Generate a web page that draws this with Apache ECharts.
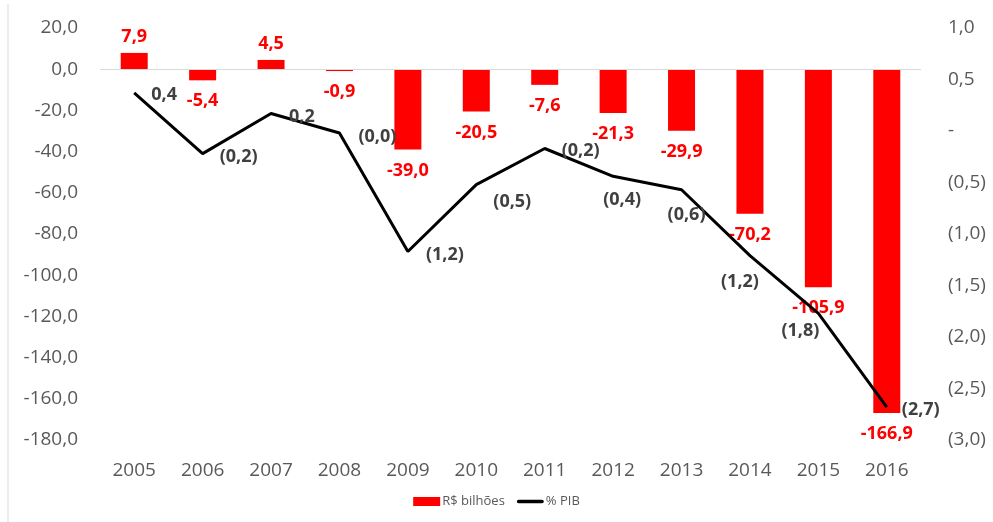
<!DOCTYPE html>
<html>
<head>
<meta charset="utf-8">
<script src="https://cdn.jsdelivr.net/npm/echarts@6/dist/echarts.min.js"></script>
<style>
  html, body { margin: 0; padding: 0; background: #fff; }
  #chart { width: 993px; height: 522px; }
</style>
</head>
<body>
<div id="chart"></div>
<script>
const years = ['2005', '2006', '2007', '2008', '2009', '2010', '2011', '2012', '2013', '2014', '2015', '2016'];
// resultado em R$ bilhões
const bilhoes = [7.9, -5.4, 4.5, -0.9, -39.0, -20.5, -7.6, -21.3, -29.9, -70.2, -105.9, -166.9];
const pib = [0.37, -0.22, 0.17, -0.02, -1.17, -0.52, -0.17, -0.44, -0.57, -1.21, -1.77, -2.68];
const leftTicks = { min: -180, max: 20, step: 20 };
const rightTicks = { min: -3, max: 1, step: 0.5 };

// onde colocar cada rótulo da linha
const pibLabelPlace = [
  { pos: 'right', offset: [12, 2] },
  { pos: 'right', offset: [12, 3] },
  { pos: 'right', offset: [13, 3] },
  { pos: 'right', offset: [14, 4] },
  { pos: 'right', offset: [13, 3] },
  { pos: 'right', offset: [12, 17] },
  { pos: 'right', offset: [12, 2] },
  { pos: 'bottom', offset: [9, 10] },
  { pos: 'bottom', offset: [5, 11] },
  { pos: 'bottom', offset: [-10, 12] },
  { pos: 'bottom', offset: [-18, 4] },
  { pos: 'right', offset: [10, 3] }
];

const FONT = "'Open Sans', 'Noto Sans', sans-serif";
const fmt = v => Math.abs(v).toFixed(1).replace('.', ',');

let myChart = echarts.init(document.getElementById('chart'));
const option = {
  animation: false,
  textStyle: { fontFamily: FONT },
  grid: { left: 100, right: 72, top: 28, bottom: 82 },
  legend: {
    bottom: 9,
    left: 'center',
    itemWidth: 27,
    itemHeight: 9,
    itemGap: 12,
    textStyle: { color: '#595959', fontSize: 13, fontFamily: FONT, padding: [0, 0, 0, -3] },
    data: [
      { name: 'R$ bilhões', icon: 'rect' },
      // linha grossa com cantos arredondados, caixa invisível mantém a proporção
      { name: '% PIB', icon: 'path://M0,0 L0,0 M2,2.5 L28,2.5 A2,2 0 0 1 28,6.5 L2,6.5 A2,2 0 0 1 2,2.5 Z M30,9 L30,9', itemStyle: { color: '#000' } }
    ]
  },
  graphic: [{
    type: 'line',
    shape: { x1: 8, y1: 4, x2: 8, y2: 522 },
    style: { stroke: '#d9d9d9', lineWidth: 1 }
  }],
  xAxis: {
    type: 'category',
    data: years,
    axisLine: { show: false },
    axisTick: { show: false },
    axisLabel: { color: '#595959', fontSize: 19, margin: 21, fontFamily: FONT }
  },
  yAxis: [{
    type: 'value',
    min: leftTicks.min,
    max: leftTicks.max,
    interval: leftTicks.step,
    splitLine: { show: false },
    axisLine: { show: false },
    axisTick: { show: false },
    axisLabel: {
      color: '#595959', fontSize: 19, margin: 22, fontFamily: FONT,
      formatter: v => (v < 0 ? '-' : '') + fmt(v)
    }
  }, {
    type: 'value',
    min: rightTicks.min,
    max: rightTicks.max,
    interval: rightTicks.step,
    splitLine: { show: false },
    axisLine: { show: false },
    axisTick: { show: false },
    axisLabel: {
      color: '#595959', fontSize: 19, margin: 27, fontFamily: FONT,
      formatter: v => v === 0 ? '-' : (v < 0 ? '(' + fmt(v) + ')' : fmt(v))
    }
  }],
  series: [{
    name: 'R$ bilhões',
    type: 'bar',
    barWidth: 27,
    itemStyle: { color: '#ff0000' },
    data: bilhoes.map(v => ({
      value: v,
      label: { position: v >= 0 ? 'top' : 'bottom', distance: v >= 0 ? 7 : 12 }
    })),
    label: {
      show: true,
      color: '#ff0000',
      fontSize: 18,
      fontWeight: 'bold',
      fontFamily: FONT,
      formatter: p => (p.value < 0 ? '-' : '') + fmt(p.value)
    },
    markLine: {
      silent: true,
      symbol: 'none',
      label: { show: false },
      lineStyle: { color: '#d9d9d9', width: 1, type: 'solid' },
      data: [{ yAxis: 0 }]
    }
  }, {
    name: '% PIB',
    type: 'line',
    yAxisIndex: 1,
    symbol: 'circle',
    symbolSize: 0,
    showSymbol: true,
    lineStyle: { color: '#000', width: 3 },
    itemStyle: { color: '#000' },
    data: pib.map((v, i) => ({
      value: v,
      label: { position: pibLabelPlace[i].pos, offset: pibLabelPlace[i].offset }
    })),
    label: {
      show: true,
      color: '#404040',
      fontSize: 18,
      fontWeight: 'bold',
      fontFamily: FONT,
      formatter: p => p.value < 0 ? '(' + fmt(p.value) + ')' : fmt(p.value)
    }
  }]
};
myChart.setOption(option);
</script>
</body>
</html>
